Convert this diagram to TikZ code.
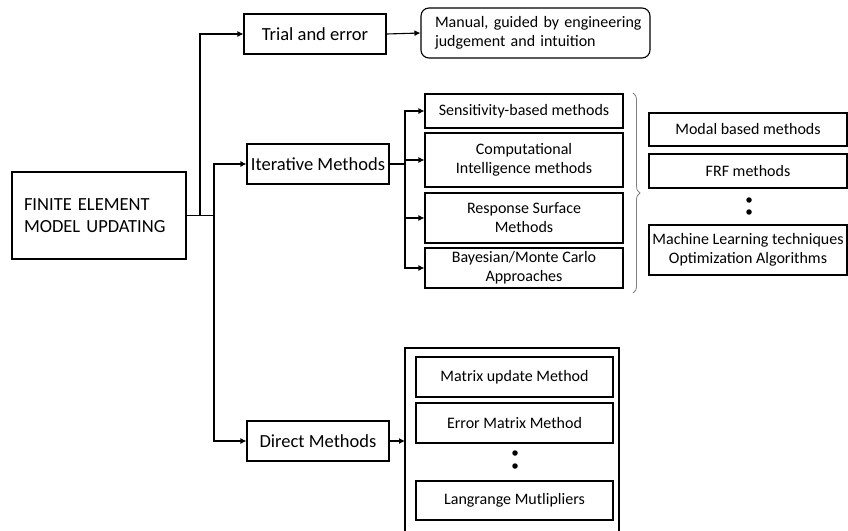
\documentclass[tikz,border=0pt]{standalone}
\usepackage{fontspec}
\setmainfont{Carlito}
\usetikzlibrary{arrows.meta,decorations.pathreplacing}
\begin{document}
\begin{tikzpicture}[x=1pt,y=-1pt,
  box/.style={draw,line width=1.1pt,inner sep=0pt,align=center,font=\fontsize{16}{19}\selectfont},
  bigbox/.style={box,font=\fontsize{18.5}{22}\selectfont},
  arr/.style={line width=1.1pt,-{Latex[length=6pt,width=6pt]}},
  ln/.style={line width=1.1pt},
  dot/.style={circle,fill,inner sep=0pt,minimum size=5.5pt}]
\useasboundingbox (0,0) rectangle (848,530);
% main
\node[bigbox,minimum width=174pt,minimum height=87pt,align=left,text width=162pt,inner xsep=0pt] (main) at (99,215.5) {\hspace*{6pt}FINITE ELEMENT\\\hspace*{6pt}MODEL UPDATING};
\node[bigbox,minimum width=142pt,minimum height=40pt] (trial) at (315,34) {Trial and error};
\node[box,rounded corners=8pt,minimum width=229pt,minimum height=50pt,align=left,text width=215pt] (manual) at (535.5,33) {\hspace*{7pt}Manual, guided by engineering\\\hspace*{7pt}judgement and intuition};
\node[bigbox,minimum width=142pt,minimum height=40pt] (iter) at (318,164) {Iterative Methods};
\node[bigbox,minimum width=142pt,minimum height=40pt] (direct) at (318,441) {Direct Methods};
% iterative sub-methods
\node[box,minimum width=198pt,minimum height=34pt] (sens) at (524,111) {Sensitivity-based methods};
\node[box,minimum width=198pt,minimum height=54pt] (comp) at (524,160) {Computational\\Intelligence methods};
\node[box,minimum width=198pt,minimum height=50pt] (resp) at (524,218) {Response Surface\\Methods};
\node[box,minimum width=198pt,minimum height=40pt] (bayes) at (524,268) {Bayesian/Monte Carlo\\Approaches};
% right column
\node[box,minimum width=198pt,minimum height=33pt] (modal) at (748,129.5) {Modal based methods};
\node[box,minimum width=198pt,minimum height=34pt] (frf) at (748,171) {FRF methods};
\node[dot] (d1) at (749,200) {};
\node[dot] (d2) at (749,212) {};
\node[box,minimum width=198pt,minimum height=50pt] (ml) at (748,250) {Machine Learning techniques\\Optimization Algorithms};
% direct methods container
\draw[ln] (405,531) -- (405,348) -- (619,348) -- (619,531);
\coordinate (outerW) at (405,441);
\node[box,minimum width=197pt,minimum height=40pt] (matrix) at (514.5,377) {Matrix update Method};
\node[box,minimum width=197pt,minimum height=40pt] (error) at (514.5,423) {Error Matrix Method};
\node[dot] (d3) at (515,453) {};
\node[dot] (d4) at (515,466) {};
\node[box,minimum width=197pt,minimum height=39pt] (lang) at (514.5,500.5) {Langrange Mutlipliers};
% connectors
\coordinate (j1) at (200,215.5);
\coordinate (j2) at (214,215.5);
\draw[ln] (main.east) -- (j2);
\draw[arr] (j1) |- (trial.west);
\draw[arr] (j2) |- (iter.west);
\draw[arr] (j2) |- (direct.west);
\draw[arr] (trial.east) -- (manual.west);
\coordinate (j3) at (405,164);
\draw[ln] (iter.east) -- (j3);
\draw[arr] (j3) |- (sens.west);
\draw[arr] (j3) |- (comp.west);
\draw[arr] (j3) |- (resp.west);
\draw[arr] (j3) |- (bayes.west);
\draw[arr] (direct.east) -- (outerW);
% brace
\draw[gray,line width=0.8pt,decorate,decoration={brace,amplitude=7pt}] (633,93) -- (633,293);
\end{tikzpicture}
\end{document}
